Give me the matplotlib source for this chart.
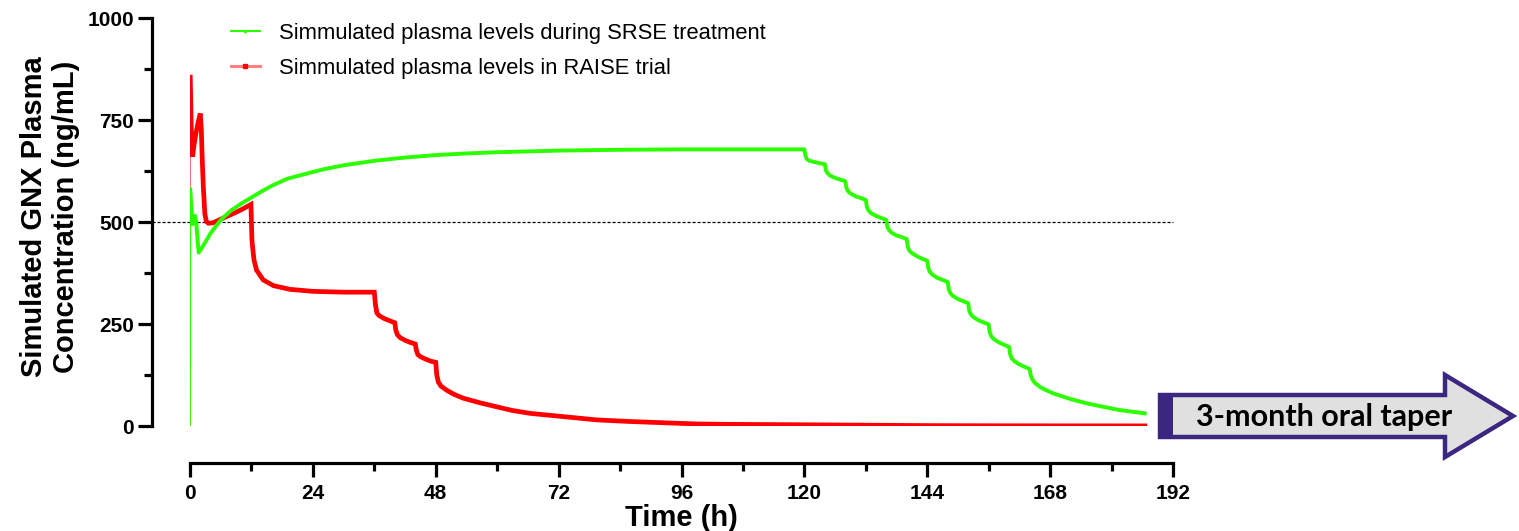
import matplotlib
matplotlib.use("Agg")
import matplotlib.pyplot as plt
from matplotlib.lines import Line2D
from matplotlib.patches import Polygon, Rectangle
from matplotlib.ticker import MultipleLocator

plt.rcParams['font.family'] = ['Liberation Sans', 'DejaVu Sans']

# ---- data (time in h, concentration in ng/mL) ----
srse_t = [0, 0.05, 0.5, 1.0, 1.2, 1.7, 2.5, 4, 6, 8, 10, 12, 14, 16, 19, 22, 26, 30,
          36, 42, 48, 54, 60, 72, 84, 96, 108, 120,
          120.2, 120.5, 121, 122, 123, 124,
          124.2, 124.5, 125, 126, 127, 128,
          128.2, 128.5, 129, 130, 131, 132,
          132.2, 132.5, 133, 134, 135, 136,
          136.2, 136.5, 137, 138, 139, 140,
          140.2, 140.5, 141, 142, 143, 144,
          144.2, 144.5, 145, 146, 147, 148,
          148.2, 148.5, 149, 150, 151, 152,
          152.2, 152.5, 153, 154, 155, 156,
          156.2, 156.5, 157, 158, 159, 160,
          160.2, 160.5, 161, 162, 163, 164,
          164.2, 164.5, 165, 166, 167, 168.6, 172, 175, 178.4, 181.6, 186.5]
srse_c = [0, 580, 495, 515, 500, 425, 440, 472, 505, 528, 545, 560, 575, 589, 606, 616, 629, 639,
          650, 658, 664, 668, 671, 675, 677, 678, 678, 678,
          662, 654, 650, 647, 644, 642,
          627, 620, 614, 608, 604, 600,
          584, 576, 570, 563, 559, 554,
          537, 529, 522, 515, 510, 505,
          489, 481, 474, 467, 463, 458,
          439, 430, 424, 416, 410, 405,
          387, 378, 371, 363, 358, 353,
          335, 326, 319, 311, 306, 301,
          283, 274, 267, 259, 254, 249,
          230, 220, 213, 205, 199, 194,
          175, 166, 159, 151, 145, 140,
          125, 115, 106, 96, 89, 80, 66, 56, 47, 39, 31]

raise_t = [0, 0.05, 0.3, 0.5, 0.8, 1.2, 1.6, 2.0, 2.2, 2.4, 2.6, 2.9, 3.2, 3.6, 4.5,
           6, 8, 10, 11.9, 12.1, 12.3, 12.5, 13, 14.3, 16.3, 19.5, 24, 30, 36,
           36.2, 36.5, 37, 38, 39, 40,
           40.2, 40.5, 41, 42, 43, 44,
           44.2, 44.5, 45, 46, 47, 48,
           48.2, 48.5, 49, 50.1, 51.5, 53.4, 56.6, 59.9, 63, 66.4, 72.9, 79.4,
           85.9, 92.4, 99, 105.5, 120, 144, 160, 186.5]
raise_c = [0, 855, 700, 660, 690, 720, 745, 766, 730, 650, 587, 520, 501, 497, 498,
           507, 518, 530, 543, 456, 430, 407, 382, 358, 344, 335, 330, 328, 328,
           300, 277, 270, 263, 258, 253,
           235, 224, 217, 210, 205, 201,
           186, 175, 170, 164, 159, 156,
           125, 108, 98, 88, 78, 68, 57, 47, 38, 31, 23, 15,
           11, 8, 5, 4, 3, 1, 0.5, 0.3]

threshold = 500
x_ticks = [0, 24, 48, 72, 96, 120, 144, 168, 192]
y_ticks = [0, 250, 500, 750, 1000]

labels = ['Simmulated plasma levels during SRSE treatment',
          'Simmulated plasma levels in RAISE trial']

green = '#2bff00'
red = '#ff0000'

W, H = 1519, 531
fig = plt.figure(figsize=(W / 100, H / 100), dpi=100)
ax = fig.add_axes([190 / W, 105 / H, 983 / W, 408 / H])

# thin initial rise, thick afterwards (as in the reference)
ax.plot(raise_t[:2], raise_c[:2], color='#ff6060', lw=1.0, zorder=2)
ax.plot(raise_t[1:], raise_c[1:], color=red, lw=3.4, zorder=2, solid_joinstyle='miter')
ax.plot(srse_t[:2], srse_c[:2], color=green, lw=1.3, zorder=3)
ax.plot(srse_t[1:], srse_c[1:], color=green, lw=2.8, zorder=3)

# reference line at 500 ng/mL, starting at the (offset) y axis
ax.plot([-7.4, 192], [threshold, threshold], color='black', lw=0.9,
        ls=(0, (2.5, 1.5)), clip_on=False, zorder=1)

ax.set_xlim(0, 192)
ax.set_ylim(0, 1000)

for s in ['top', 'right']:
    ax.spines[s].set_visible(False)
ax.spines['left'].set_position(('outward', 27.4))
ax.spines['bottom'].set_position(('outward', 26.6))
ax.spines['left'].set_linewidth(2.3)
ax.spines['bottom'].set_linewidth(2.3)
ax.spines['bottom'].set_capstyle('projecting')

ax.set_xticks(x_ticks)
ax.set_xticklabels([str(v) for v in x_ticks], fontweight='bold')
ax.set_yticks(y_ticks)
ax.set_yticklabels([str(v) for v in y_ticks], fontweight='bold')
ax.xaxis.set_minor_locator(MultipleLocator(12))
ax.yaxis.set_minor_locator(MultipleLocator(125))
ax.tick_params(which='major', direction='out', length=10, width=2.3, labelsize=15)
ax.tick_params(axis='x', which='major', pad=5)
ax.tick_params(axis='y', which='major', pad=3)
ax.tick_params(which='minor', direction='out', length=6, width=2.3)

ax.set_xlabel('Time (h)', fontsize=21, fontweight='bold', labelpad=1)
fig.text(50 / W, 1 - 217 / H, 'Simulated GNX Plasma\nConcentration (ng/mL)',
         rotation=90, ha='center', va='center', fontsize=21, fontweight='bold',
         multialignment='center')

handles = [Line2D([], [], color=green, lw=1.5, marker='s', ms=2,
                  markerfacecolor=green, markeredgecolor=green),
           Line2D([], [], color='#ff8080', lw=2.2, marker='s', ms=3,
                  markerfacecolor=red, markeredgecolor=red)]
fig.legend(handles, labels, loc='upper left', bbox_to_anchor=(231 / W, 1 - 23 / H),
           frameon=False, fontsize=15.8, handlelength=1.3, handletextpad=0.9,
           labelspacing=0.62, borderpad=0, borderaxespad=0)

# "3-month oral taper" arrow
def px(x, y):
    return (x / W, 1 - y / H)

arrow_pts = [px(1160, 395), px(1445, 395), px(1445, 375), px(1513, 416),
             px(1445, 457), px(1445, 437), px(1160, 437)]
fig.patches.append(Polygon(arrow_pts, closed=True, facecolor='#e0e0e0',
                           edgecolor='#3b2680', lw=3.2, joinstyle='miter',
                           transform=fig.transFigure, figure=fig))
fig.patches.append(Rectangle(px(1158, 437), 15 / W, 42 / H, facecolor='#3b2680',
                             edgecolor='none', transform=fig.transFigure, figure=fig))
fig.text(1324 / W, 1 - 417 / H, '3-month oral taper', ha='center', va='center',
         fontsize=22, fontweight='bold', family=['Lato', 'DejaVu Sans'])

fig.savefig('out.png', dpi=100)
